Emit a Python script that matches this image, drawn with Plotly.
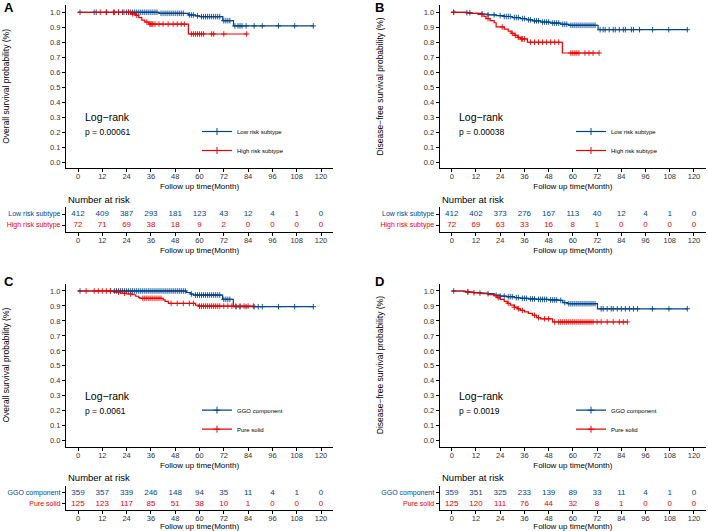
import plotly.graph_objects as go

# ---------------- data ----------------
TICKS = [0, 12, 24, 36, 48, 60, 72, 84, 96, 108, 120]

# Panel A (overall survival, risk subtype)
A_LOW_T = [0, 40, 54.5, 58, 60, 71.5, 76.8, 116.2]
A_LOW_S = [1.0, 0.993, 0.982, 0.976, 0.971, 0.944, 0.909, 0.909]
A_LOW_CENS = [1, 8, 9, 14, 17.5, 20, 22, 24, 25, 26, 27, 28, 29, 30, 31, 32, 33, 34, 35, 36, 37, 38,
              39, 41, 42, 43, 44, 45, 46, 47, 48, 49, 50, 51, 52, 55, 56, 57, 59, 61, 62, 63, 64, 65,
              66, 67, 68, 69, 70, 72, 73, 74, 75, 77.5, 79, 80, 81, 83, 87, 91, 99, 107, 116.2]
A_HIGH_T = [0, 26, 28.5, 30, 31.5, 33, 35, 54.5, 83.3]
A_HIGH_S = [1.0, 0.99, 0.98, 0.965, 0.948, 0.935, 0.921, 0.855, 0.855]
A_HIGH_CENS = [11, 14, 18, 20, 22.7, 25, 27, 29, 34, 35.5, 36, 36.5, 37, 38, 40, 42, 44.5, 47, 49,
               51, 52.5, 56, 57, 58, 59, 60, 61, 62, 66, 67, 72, 83.3]
A_RISK_LOW = [412, 409, 387, 293, 181, 123, 43, 12, 4, 1, 0]
A_RISK_HIGH = [72, 71, 69, 38, 18, 9, 2, 0, 0, 0, 0]

# Panel B (disease-free survival, risk subtype)
B_LOW_T = [0, 7, 10, 15, 18, 22, 26, 30, 34, 37, 40, 44, 49, 54, 58, 72.5, 116.7]
B_LOW_S = [1.0, 0.997, 0.993, 0.988, 0.983, 0.978, 0.972, 0.965, 0.958, 0.95, 0.943, 0.935,
           0.928, 0.92, 0.913, 0.884, 0.884]
B_LOW_CENS = [1, 7.5, 9, 15, 18, 21, 24, 26, 27, 28, 29, 31, 32, 33, 35, 36, 38, 39, 41, 42, 43,
              45, 46, 47, 48, 50, 51, 52, 53, 55, 56, 57, 59, 60, 61, 62, 63, 64, 65, 66, 67, 68,
              69, 70, 71, 73.5, 75, 76, 78, 80, 81, 83, 85, 86, 89, 90, 93, 99.5, 107.5, 116.7]
B_HIGH_T = [0, 8, 13, 16, 17, 19, 21, 22, 26, 28, 29.5, 31, 32.5, 34, 37.5, 54.8, 73]
B_HIGH_S = [1.0, 0.993, 0.986, 0.972, 0.958, 0.944, 0.93, 0.902, 0.888, 0.874, 0.86, 0.846,
            0.832, 0.822, 0.80, 0.728, 0.728]
B_HIGH_CENS = [1, 15, 18, 25, 30, 31.5, 33, 34.5, 35, 36, 39, 41, 43, 45, 47, 49, 51, 53, 59, 60,
               61, 62, 63, 66, 68, 70, 73]
B_RISK_LOW = [412, 402, 373, 276, 167, 113, 40, 12, 4, 1, 0]
B_RISK_HIGH = [72, 69, 63, 33, 16, 8, 1, 0, 0, 0, 0]

# Panel C (overall survival, GGO vs pure solid)
C_LOW_T = [0, 53.5, 55.5, 57, 71.4, 76.7, 116.2]
C_LOW_S = [1.0, 0.99, 0.98, 0.973, 0.944, 0.895, 0.895]
C_LOW_CENS = [1, 16, 18, 19, 20, 21, 22, 23, 24, 25, 26, 27, 28, 29, 30, 31, 32, 33, 34, 35, 36,
              37, 38, 39, 40, 41, 42, 43, 44, 45, 46, 47, 48, 49, 50, 51, 52, 53, 56, 58, 59, 60,
              61, 62, 63, 64, 65, 66, 67, 68, 69, 70, 72, 73, 74, 75, 78, 80, 83, 87, 89, 91, 99,
              107, 116.2]
C_HIGH_T = [0, 17.5, 21, 24, 27, 28.5, 30, 30.6, 42, 43, 44.6, 58, 59.5, 86.6]
C_HIGH_S = [1.0, 0.993, 0.985, 0.98, 0.975, 0.965, 0.955, 0.951, 0.94, 0.93, 0.917, 0.905,
            0.899, 0.899]
C_HIGH_CENS = [4, 8, 10, 12, 14, 16, 20, 23, 26, 32, 33, 34, 35, 36, 37, 38, 39, 40, 41, 46, 49,
               52, 55, 57, 60, 61, 62, 63, 64, 65, 66, 67, 68, 69, 70, 72, 74, 76, 78, 80, 82, 84,
               86.6]
C_RISK_LOW = [359, 357, 339, 246, 148, 94, 35, 11, 4, 1, 0]
C_RISK_HIGH = [125, 123, 117, 85, 51, 38, 10, 1, 0, 0, 0]

# Panel D (disease-free survival, GGO vs pure solid)
D_LOW_T = [0, 6, 10, 14, 18, 21, 24, 27, 31, 34, 38, 42, 48, 53, 55, 57.5, 72.2, 116.7]
D_LOW_S = [1.0, 0.995, 0.99, 0.986, 0.982, 0.972, 0.966, 0.962, 0.956, 0.951, 0.947, 0.944,
           0.94, 0.937, 0.922, 0.915, 0.881, 0.881]
D_LOW_CENS = [1, 8, 14, 18, 22, 24, 26, 28, 29, 30, 32, 33, 35, 36, 37, 39, 40, 41, 43, 44, 45,
              46, 47, 49, 50, 51, 52, 54, 56, 58, 59, 60, 61, 62, 63, 64, 65, 66, 67, 68, 69, 70,
              71, 74, 75, 77, 79, 80, 82, 84, 86, 88, 90, 92, 99.4, 107.6, 116.7]
D_HIGH_T = [0, 7, 11, 15, 18, 21, 22.5, 24, 26, 27.5, 29, 31, 32.5, 34, 36, 38, 40, 42, 44, 50,
            87]
D_HIGH_S = [1.0, 0.993, 0.988, 0.982, 0.976, 0.968, 0.955, 0.944, 0.93, 0.918, 0.905, 0.892,
            0.881, 0.87, 0.86, 0.85, 0.838, 0.822, 0.814, 0.793, 0.793]
D_HIGH_CENS = [8, 11, 23, 28, 31, 33, 35, 41, 43, 46, 48, 51, 53, 54, 55, 56, 57, 58, 59, 60, 61,
               62, 63, 64, 65, 66, 67, 68, 69, 70, 72, 74, 77, 80, 83, 85, 87]
D_RISK_LOW = [359, 351, 325, 233, 139, 89, 33, 11, 4, 1, 0]
D_RISK_HIGH = [125, 120, 111, 76, 44, 32, 8, 1, 0, 0, 0]

LETTERS = ["A", "B", "C", "D"]
Y_TITLES = ["Overall survival probability (%)", "Disease\u2212free survival probability (%)",
            "Overall survival probability (%)", "Disease\u2212free survival probability (%)"]
PVALS = ["p = 0.00061", "p = 0.00038", "p = 0.0061", "p = 0.0019"]
GROUPS_1 = ["Low risk subtype", "High risk subtype"]
GROUPS_2 = ["GGO component", "Pure solid"]
X_TITLE = "Follow up time(Month)"

# ---------------- style ----------------
BLUE = "#00468B"
RED = "#ED0000"
FONT = "Liberation Sans, Arial, sans-serif"
W, H = 708, 531

def px_x(p):
    return p / W

def px_y(p):
    return 1 - p / H

COL_DOM = [[px_x(65.85), px_x(333.15)], [px_x(439.6), px_x(706.1)]]
KM_DOM = [[px_y(168.0), px_y(4.8)], [px_y(446.7), px_y(283.5)]]
RISK_DOM = [[px_y(231.6), px_y(207.4)], [px_y(510.3), px_y(486.1)]]

panels = [
    dict(low=(A_LOW_T, A_LOW_S, A_LOW_CENS), high=(A_HIGH_T, A_HIGH_S, A_HIGH_CENS),
         risk=(A_RISK_LOW, A_RISK_HIGH), groups=GROUPS_1),
    dict(low=(B_LOW_T, B_LOW_S, B_LOW_CENS), high=(B_HIGH_T, B_HIGH_S, B_HIGH_CENS),
         risk=(B_RISK_LOW, B_RISK_HIGH), groups=GROUPS_1),
    dict(low=(C_LOW_T, C_LOW_S, C_LOW_CENS), high=(C_HIGH_T, C_HIGH_S, C_HIGH_CENS),
         risk=(C_RISK_LOW, C_RISK_HIGH), groups=GROUPS_2),
    dict(low=(D_LOW_T, D_LOW_S, D_LOW_CENS), high=(D_HIGH_T, D_HIGH_S, D_HIGH_CENS),
         risk=(D_RISK_LOW, D_RISK_HIGH), groups=GROUPS_2),
]


def step_at(ts, ss, t):
    v = ss[0]
    for tt, s in zip(ts, ss):
        if tt <= t:
            v = s
        else:
            break
    return v


fig = go.Figure()
annotations = []
TICKFONT = dict(family=FONT, size=7.5, color="#333333")

for i, p in enumerate(panels):
    col, row = i % 2, i // 2
    ka, ra = i + 1, i + 5
    kx = "x" if ka == 1 else f"x{ka}"
    ky = "y" if ka == 1 else f"y{ka}"
    rxn, ryn = f"x{ra}", f"y{ra}"
    leg = "legend" if i == 0 else f"legend{i + 1}"

    for (ts, ss, cens), color, name in [(p["low"], BLUE, p["groups"][0]),
                                         (p["high"], RED, p["groups"][1])]:
        fig.add_trace(go.Scatter(x=ts, y=ss, mode="lines", line=dict(color=color, width=1.2, shape="hv"),
                                 xaxis=kx, yaxis=ky, showlegend=False, hoverinfo="skip"))
        fig.add_trace(go.Scatter(x=cens, y=[step_at(ts, ss, c) for c in cens], mode="markers",
                                 marker=dict(symbol="cross-thin", size=4, line=dict(color=color, width=0.9)),
                                 xaxis=kx, yaxis=ky, showlegend=False, hoverinfo="skip"))
        fig.add_trace(go.Scatter(x=[None], y=[None], mode="lines+markers", name=name,
                                 line=dict(color=color, width=1.2),
                                 marker=dict(symbol="cross-thin", size=5, line=dict(color=color, width=1)),
                                 xaxis=kx, yaxis=ky, legend=leg))

    low_r, high_r = p["risk"]
    for vals, yv, color in [(low_r, 2, BLUE), (high_r, 1, RED)]:
        fig.add_trace(go.Scatter(x=TICKS, y=[yv] * len(TICKS), mode="text",
                                 text=[str(v) for v in vals],
                                 textfont=dict(family=FONT, size=8, color=color),
                                 xaxis=rxn, yaxis=ryn, showlegend=False, hoverinfo="skip",
                                 cliponaxis=False))

    xdom = COL_DOM[col]
    common_x = dict(domain=xdom, range=[-6, 126], tickvals=TICKS, ticks="outside", ticklen=3,
                    tickcolor="black", showline=True, linecolor="black", linewidth=1,
                    showgrid=False, zeroline=False, tickfont=TICKFONT, automargin=False,
                    ticklabelstandoff=-2,
                    title=dict(text=X_TITLE, font=dict(family=FONT, size=8, color="black"), standoff=3))
    fig.layout[("xaxis" if ka == 1 else f"xaxis{ka}")] = dict(common_x, anchor=ky)
    fig.layout[f"xaxis{ra}"] = dict(common_x, anchor=ryn)
    fig.layout[("yaxis" if ka == 1 else f"yaxis{ka}")] = dict(
        domain=KM_DOM[row], anchor=kx, range=[-0.04, 1.05], automargin=False,
        tickvals=[k / 10 for k in range(11)], tickformat=".1f", ticks="outside", ticklen=3,
        tickcolor="black", showline=True, linecolor="black", linewidth=1, showgrid=False,
        zeroline=False, tickfont=TICKFONT,
        title=dict(text=Y_TITLES[i], font=dict(family=FONT, size=8.5, color="black"), standoff=38))
    fig.layout[f"yaxis{ra}"] = dict(
        domain=RISK_DOM[row], anchor=rxn, range=[0.4, 2.6], tickvals=[2, 1], automargin=False,
        ticktext=[f"<span style='color:{BLUE}'>{p['groups'][0]}</span>",
                  f"<span style='color:{RED}'>{p['groups'][1]}</span>"],
        ticks="outside", ticklen=3, tickcolor="black", showline=True, linecolor="black",
        linewidth=1, showgrid=False, zeroline=False, tickfont=dict(family=FONT, size=7))

    fig.layout[leg] = dict(x=px_x(197 if col == 0 else 571), y=px_y(141 + 278.7 * row),
                           xanchor="left", yanchor="middle", bgcolor="rgba(0,0,0,0)",
                           font=dict(family=FONT, size=6, color="black"), itemwidth=30,
                           traceorder="normal", tracegroupgap=0)

    # panel letter
    annotations.append(dict(text=f"<b>{LETTERS[i]}</b>", xref="paper", yref="paper",
                            x=px_x(8.5 if col == 0 else 379), y=px_y(7 + 274 * row),
                            showarrow=False, font=dict(family=FONT, size=13, color="black"),
                            xanchor="center", yanchor="middle"))
    annotations.append(dict(text="Log\u2212rank", xref=kx, yref=ky, x=2.5, y=0.30, showarrow=False,
                            xanchor="left", yanchor="middle",
                            font=dict(family=FONT, size=10.5, color="black")))
    annotations.append(dict(text=PVALS[i], xref=kx, yref=ky, x=2.5, y=0.20, showarrow=False,
                            xanchor="left", yanchor="middle",
                            font=dict(family=FONT, size=8.5, color="black")))
    annotations.append(dict(text="Number at risk", xref="paper", yref="paper",
                            x=px_x(65.5 if col == 0 else 439.5), y=px_y(199 + 278.7 * row),
                            showarrow=False, xanchor="left", yanchor="middle",
                            font=dict(family=FONT, size=9.5, color="black")))

fig.update_layout(width=W, height=H, margin=dict(l=0, r=0, t=0, b=0, autoexpand=False),
                  paper_bgcolor="white", plot_bgcolor="white",
                  font=dict(family=FONT), annotations=annotations)

fig.write_html("out.html", config={"displayModeBar": False},
               post_script="document.body.style.margin='0';document.body.style.overflow='hidden';")
